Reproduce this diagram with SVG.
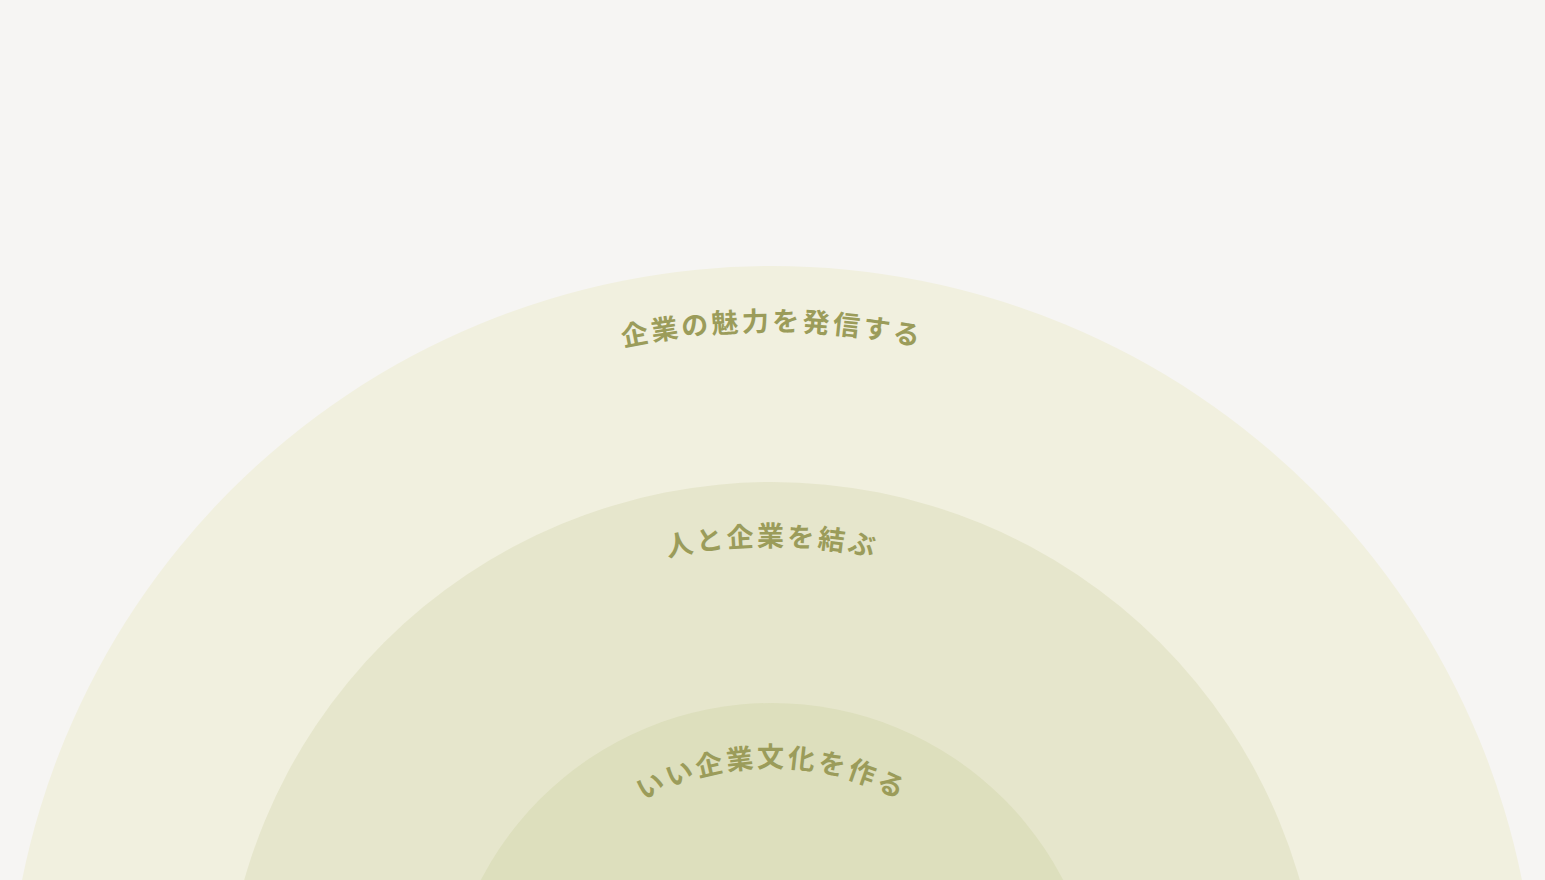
<svg xmlns="http://www.w3.org/2000/svg" width="1545" height="880" viewBox="0 0 1545 880">
<defs>
<style>
.lbl{font-family:"Noto Sans CJK JP","Noto Sans",sans-serif;font-weight:700;font-size:27px;letter-spacing:3px;fill:#9b9c5a;}
</style>
<path id="p1" d="M72,1031 A700,700 0 0 1 1472,1031"/>
<path id="p2" d="M287,1031 A485,485 0 0 1 1257,1031"/>
<path id="p3" d="M508,1031 A264,264 0 0 1 1036,1031"/>
</defs>
<rect width="1545" height="880" fill="#f6f5f3"/>
<g id="outer">
<circle cx="772" cy="1031" r="765" fill="#f1f0df"/>
<text class="lbl"><textPath href="#p1" startOffset="50%" text-anchor="middle">企業の魅力を発信する</textPath></text>
</g>
<g id="middle">
<circle cx="772" cy="1031" r="549" fill="#e6e6cc"/>
<text class="lbl"><textPath href="#p2" startOffset="50%" text-anchor="middle">人と企業を結ぶ</textPath></text>
</g>
<g id="inner">
<circle cx="772" cy="1031" r="328" fill="#dddfbd"/>
<text class="lbl"><textPath href="#p3" startOffset="50%" text-anchor="middle">いい企業文化を作る</textPath></text>
</g>
<g id="connectors"></g>
</svg>
